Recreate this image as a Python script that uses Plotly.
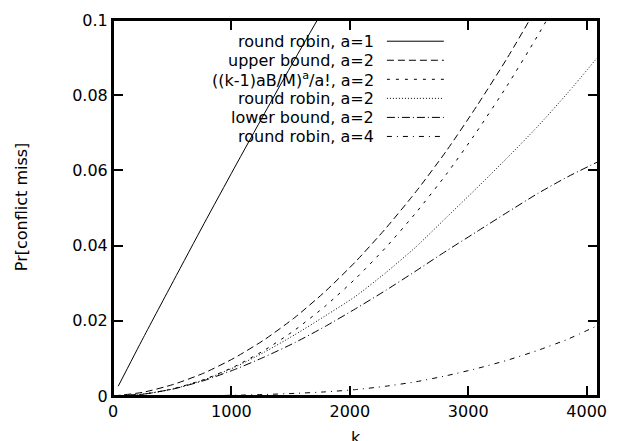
import plotly.graph_objects as go

# ---- data ----
k_rr1 = [44, 256, 512, 768, 1024, 1280, 1536, 1792, 2048]
rr_a1 = [0.0026, 0.0155, 0.0307, 0.0458, 0.0606, 0.0752, 0.0896, 0.1036, 0.1175]

k_grid = [1, 256, 512, 768, 1024, 1280, 1536, 1792, 2048, 2304, 2560,
          2816, 3072, 3328, 3584, 3840, 4096]
upper_a2 = [0.0, 0.0010, 0.0031, 0.0061, 0.0101, 0.0150, 0.0209, 0.0278, 0.0357,
            0.0446, 0.0544, 0.0652, 0.0771, 0.0898, 0.1036, 0.1182, 0.1340]
formula_a2 = [0.0, 0.00048, 0.00195, 0.00438, 0.0078, 0.0122, 0.01755, 0.0239, 0.0312,
              0.0395, 0.0488, 0.0590, 0.0703, 0.0825, 0.0957, 0.1098, 0.1250]
rr_a2 = [0.0, 0.0005, 0.0019, 0.0043, 0.0076, 0.0117, 0.0163, 0.0213, 0.0265,
         0.0328, 0.0397, 0.0475, 0.0553, 0.0633, 0.0716, 0.0806, 0.0902]
lower_a2 = [0.0, 0.0005, 0.0019, 0.0041, 0.0070, 0.0104, 0.0142, 0.0185, 0.0232,
            0.0281, 0.0333, 0.0386, 0.0437, 0.0488, 0.0538, 0.0583, 0.0623]
rr_a4 = [0.0, 0.0, 0.0, 0.0001, 0.0002, 0.0004, 0.0007, 0.0011, 0.0017,
         0.0026, 0.0038, 0.0054, 0.0073, 0.0095, 0.0121, 0.0151, 0.0188]

x_ticks = [0, 1000, 2000, 3000, 4000]
y_ticks = [0, 0.02, 0.04, 0.06, 0.08, 0.1]
y_ticktext = ["0", "0.02", "0.04", "0.06", "0.08", "0.1"]
x_title = "k"
y_title = "Pr[conflict miss]"

labels = ["round robin, a=1", "upper bound, a=2", "((k-1)aB/M)<sup>a</sup>/a!, a=2",
          "round robin, a=2", "lower bound, a=2", "round robin, a=4"]
dashes = ["solid", "7px,4px", "3px,6px", "1px,2px", "8px,3px,1px,3px", "5px,5px,1px,5px"]

series = [(k_rr1, rr_a1), (k_grid, upper_a2), (k_grid, formula_a2),
          (k_grid, rr_a2), (k_grid, lower_a2), (k_grid, rr_a4)]

X_RANGE = [0, 4096]
Y_RANGE = [0, 0.1]

fig = go.Figure()
for (kx, ys), name, d in zip(series, labels, dashes):
    fig.add_trace(go.Scatter(x=kx, y=ys, mode="lines", name=name,
                             line=dict(color="black", width=1, dash=d, shape="spline", smoothing=0.6),
                             showlegend=False))

# ---- layout geometry (pixels) ----
W, H = 618, 441
L, R, T, B = 113, 11, 15, 45
pw, ph = W - L - R, H - T - B

def px_x(x):
    return (x - L) / pw

def px_y(y):
    return (H - B - y) / ph

# legend built from annotations + sample lines (text left of sample, gnuplot style)
row_y = [36.5, 55.8, 75.1, 94.4, 113.7, 133.0]
for name, d, ry in zip(labels, dashes, row_y):
    fig.add_annotation(x=px_x(381), y=px_y(ry), xref="paper", yref="paper",
                       text=name, showarrow=False, xanchor="right", yanchor="middle",
                       font=dict(family="DejaVu Sans", size=16, color="black"))
    fig.add_shape(type="line", xref="paper", yref="paper",
                  x0=px_x(392), x1=px_x(450), y0=px_y(ry), y1=px_y(ry),
                  line=dict(color="black", width=1, dash=d))

# axis titles as annotations
fig.add_annotation(x=px_x(360), y=px_y(438), xref="paper", yref="paper", text=x_title,
                   showarrow=False, xanchor="center", yanchor="middle",
                   font=dict(family="DejaVu Sans", size=16, color="black"))
fig.add_annotation(x=px_x(20), y=px_y(204), xref="paper", yref="paper", text=y_title,
                   showarrow=False, xanchor="center", yanchor="middle", textangle=-90,
                   font=dict(family="DejaVu Sans", size=16, color="black"))

# plot frame
fig.add_shape(type="rect", xref="paper", yref="paper", x0=0, x1=1, y0=0, y1=1,
              line=dict(color="black", width=2), layer="above")

# invisible traces to activate the tick-only axes
fig.add_trace(go.Scatter(x=[None], y=[None], xaxis="x2", yaxis="y2", showlegend=False,
                         hoverinfo="skip"))

in_ticks = dict(ticks="inside", ticklen=10, tickwidth=2, tickcolor="black",
                showgrid=False, zeroline=False, showticklabels=False)

fig.update_layout(
    width=W, height=H,
    margin=dict(l=L, r=R, t=T, b=B, pad=0),
    plot_bgcolor="white", paper_bgcolor="white",
    font=dict(family="DejaVu Sans", size=16, color="black"),
    showlegend=False,
    xaxis=dict(range=X_RANGE, tickvals=x_ticks, ticks="inside", ticklen=10, tickwidth=2,
               tickcolor="black", showline=True, linewidth=2, linecolor="black",
               mirror="allticks", showgrid=False, zeroline=False),
    yaxis=dict(range=Y_RANGE, tickvals=y_ticks, ticktext=y_ticktext, ticks="inside",
               ticklen=10, tickwidth=2, tickcolor="black", showline=True, linewidth=2,
               linecolor="black", mirror="allticks", showgrid=False, zeroline=False),
    xaxis2=dict(overlaying="x", side="top", matches="x", tickvals=x_ticks, **in_ticks),
    yaxis2=dict(overlaying="y", side="right", matches="y", tickvals=y_ticks, **in_ticks),
)

fig.write_html(
    "out.html",
    config={"displayModeBar": False},
    post_script="document.body.style.margin='0px';document.body.style.overflow='hidden';",
)
